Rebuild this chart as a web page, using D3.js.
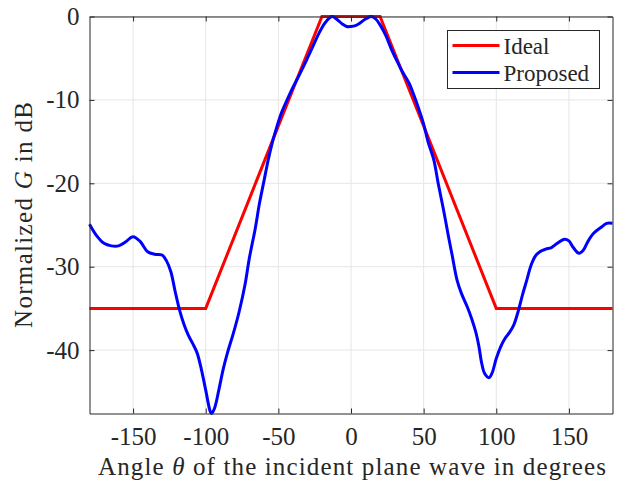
<!DOCTYPE html>
<html>
<head>
<meta charset="utf-8">
<script src="https://cdn.jsdelivr.net/npm/d3@7"></script>
<style>
  body { margin: 0; background: #fff; }
  text { font-family: 'Liberation Serif', 'Times New Roman', serif; fill: #262626; }
</style>
</head>
<body>
<svg id="chart"></svg>
<script>
const w = 626;
const h = 483;

const xTicks = [-150, -100, -50, 0, 50, 100, 150];
const yTicks = [0, -10, -20, -30, -40];

// ideal pattern (corner points)
const idealAngle = [-180, -100, -20, 20, 100, 180];
const idealGain = [-35, -35, 0, 0, -35, -35];

// proposed pattern
const propAngle = [
  -180, -175, -170, -165, -160, -155, -150, -145, -140, -135, -130, -127, -124, -121,
  -118, -115, -112, -109, -106, -103, -100, -97, -96, -94, -91, -88, -85, -81, -77,
  -73, -70, -66, -63, -60, -57, -54, -51, -48, -44, -40, -37, -33, -30, -26, -22,
  -18, -15, -13, -10, -6, -3, 0, 3, 6, 10, 14, 17, 20, 24, 28, 31.5, 35, 40, 43,
  46.5, 50, 53, 57, 60, 63.7, 67, 69.5, 73, 76, 80, 83, 86, 88, 90, 92, 95, 97,
  100, 103, 106, 109, 112, 115, 118, 121, 124, 127, 130, 134, 138, 142, 147, 150,
  153, 157, 160, 163, 167, 172, 176, 180,
];
const propGain = [
  -24.9, -26.3, -27.2, -27.5, -27.5, -27.0, -26.4, -27.0, -28.2, -28.5, -28.6, -29.3, -30.6, -33.0,
  -35.2, -36.9, -38.2, -39.2, -40.3, -42.3, -44.8, -47.3, -47.6, -47.0, -44.8, -42.3, -40.3, -38.0, -35.4,
  -32.2, -29.0, -25.5, -22.4, -19.8, -17.2, -15.0, -13.2, -11.6, -10.0, -8.5, -7.5, -6.1, -5.0, -3.5, -2.0,
  -0.8, -0.2, 0, -0.3, -0.9, -1.2, -1.2, -1.1, -0.8, -0.3, 0, -0.3, -1.0, -2.3, -4.0, -5.3, -6.5, -8.0, -9.3,
  -11.0, -12.9, -15.0, -17.2, -20.0, -23.2, -26.3, -28.5, -31.6, -33.2, -34.8, -36.2, -37.9, -39.5, -41.6, -42.8, -43.3, -42.8,
  -41.0, -39.6, -38.6, -37.9, -37.0, -35.4, -33.4, -31.6, -29.8, -28.7, -28.2, -27.9, -27.7, -27.2, -26.7, -26.9,
  -27.7, -28.4, -28.0, -27.0, -26.0, -25.3, -24.8, -24.8,
];

const seriesNames = ['Ideal', 'Proposed'];
const seriesColors = ['#ff0000', '#0000ff'];

const margin = { left: 89.5, right: 13.5, top: 16.5, bottom: 69.5 };

const x = d3.scaleLinear().domain([-180, 180]).range([margin.left, w - margin.right]);
const y = d3.scaleLinear().domain([-47.6, 0]).range([h - margin.bottom, margin.top]);

const svg = d3.select('#chart').attr('width', w).attr('height', h);

////////////////////////
/////// GRID ///////////
////////////////////////

svg.append('g')
  .selectAll('line')
  .data(xTicks)
  .enter()
  .append('line')
  .attr('x1', (d) => x(d)).attr('x2', (d) => x(d))
  .attr('y1', y.range()[0]).attr('y2', y.range()[1])
  .attr('stroke', '#e6e6e6');

svg.append('g')
  .selectAll('line')
  .data(yTicks)
  .enter()
  .append('line')
  .attr('y1', (d) => y(d)).attr('y2', (d) => y(d))
  .attr('x1', x.range()[0]).attr('x2', x.range()[1])
  .attr('stroke', '#e6e6e6');

////////////////////////
/////// LINES //////////
////////////////////////

const line = d3.line()
  .x((d) => x(d[0]))
  .y((d) => y(d[1]));

const plot = svg.append('g');

plot.append('path')
  .datum(d3.zip(idealAngle, idealGain))
  .attr('d', line)
  .attr('fill', 'none')
  .attr('stroke', seriesColors[0])
  .attr('stroke-width', 3);

plot.append('path')
  .datum(d3.zip(propAngle, propGain))
  .attr('d', line.curve(d3.curveCatmullRom.alpha(0.5)))
  .attr('fill', 'none')
  .attr('stroke', seriesColors[1])
  .attr('stroke-width', 3);

////////////////////////
/////// AXES ///////////
////////////////////////

const axisColor = '#262626';
const tickFont = '25px';

const xAxis = svg.append('g')
  .attr('transform', `translate(0,${y.range()[0]})`)
  .call(d3.axisBottom(x).tickValues(xTicks).tickSizeInner(-5).tickSizeOuter(0).tickPadding(14));

const xTop = svg.append('g')
  .attr('transform', `translate(0,${y.range()[1]})`)
  .call(d3.axisTop(x).tickValues(xTicks).tickSizeInner(-5).tickSizeOuter(0).tickFormat(''));

const yAxis = svg.append('g')
  .attr('transform', `translate(${x.range()[0]},0)`)
  .call(d3.axisLeft(y).tickValues(yTicks).tickSizeInner(-5).tickSizeOuter(0).tickPadding(10));

const yRight = svg.append('g')
  .attr('transform', `translate(${x.range()[1]},0)`)
  .call(d3.axisRight(y).tickValues(yTicks).tickSizeInner(-5).tickSizeOuter(0).tickFormat(''));

[xAxis, xTop, yAxis, yRight].forEach((a) => {
  a.selectAll('path').attr('stroke', axisColor);
  a.selectAll('line').attr('stroke', axisColor);
  a.selectAll('text')
    .attr('fill', axisColor)
    .style('font-family', "'Liberation Serif', serif")
    .style('font-size', tickFont);
});

xAxis.selectAll('text').text((d) => String(d).replace('−', '-'));
yAxis.selectAll('text').text((d) => String(d).replace('−', '-'));

// x label
const xLabel = svg.append('text')
  .attr('x', 352)
  .attr('y', 475)
  .attr('text-anchor', 'middle')
  .attr('textLength', 508)
  .attr('lengthAdjust', 'spacing')
  .style('font-size', '25px');
xLabel.append('tspan').text('Angle ');
xLabel.append('tspan').style('font-style', 'italic').text('θ');
xLabel.append('tspan').text(' of the incident plane wave in degrees');

// y label
const yLabel = svg.append('text')
  .attr('transform', `translate(32,215) rotate(-90)`)
  .attr('text-anchor', 'middle')
  .attr('textLength', 226)
  .attr('lengthAdjust', 'spacing')
  .style('font-size', '25px');
yLabel.append('tspan').text('Normalized ');
yLabel.append('tspan').style('font-style', 'italic').text('G');
yLabel.append('tspan').text(' in dB');

////////////////////////
/////// LEGEND /////////
////////////////////////

const legend = svg.append('g').attr('transform', 'translate(447.5,30.5)');

legend.append('rect')
  .attr('width', 152)
  .attr('height', 58)
  .attr('fill', '#fff')
  .attr('stroke', axisColor);

const item = legend.selectAll('g.item')
  .data(seriesNames)
  .enter()
  .append('g')
  .attr('class', 'item')
  .attr('transform', (d, i) => `translate(0,${15 + i * 27})`);

item.append('line')
  .attr('x1', 5).attr('x2', 52)
  .attr('stroke', (d, i) => seriesColors[i])
  .attr('stroke-width', 3);

item.append('text')
  .attr('x', 56)
  .attr('dy', '0.35em')
  .style('font-size', '23px')
  .text((d) => d);
</script>
</body>
</html>
